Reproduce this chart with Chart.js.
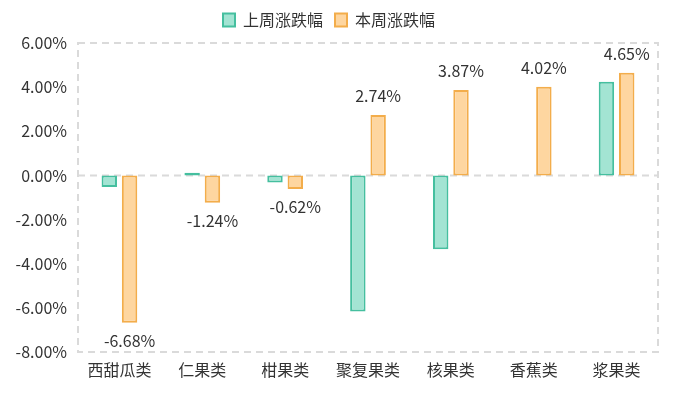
<!DOCTYPE html>
<html>
<head>
<meta charset="utf-8">
<script src="https://cdn.jsdelivr.net/npm/chart.js@4.4.1/dist/chart.umd.min.js"></script>
<style>
  html, body { margin: 0; padding: 0; background: #fff; }
  #wrap { width: 681px; height: 397px; position: relative; }
</style>
</head>
<body>
<div id="wrap"><canvas id="chart"></canvas></div>
<script>
// data (percent)
const categories = ['西甜瓜类', '仁果类', '柑果类', '聚复果类', '核果类', '香蕉类', '浆果类'];
const lastWeek = [-0.52, 0.12, -0.32, -6.16, -3.34, 0, 4.25];
const thisWeek = [-6.68, -1.24, -0.62, 2.74, 3.87, 4.02, 4.65];
const seriesNames = ['上周涨跌幅', '本周涨跌幅'];
const yTicks = [-8, -6, -4, -2, 0, 2, 4, 6];

const FONT = '"Noto Sans CJK SC", "Noto Sans", sans-serif';
const gridColor = '#dadada';

// dashed frame round the plot area + zero line
const framePlugin = {
    id: 'frame',
    beforeDatasetsDraw(chart) {
        const { ctx, chartArea: a, scales } = chart;
        ctx.save();
        ctx.strokeStyle = gridColor;
        ctx.lineWidth = 2;
        ctx.setLineDash([7, 5]);
        ctx.strokeRect(a.left, a.top, a.right - a.left, a.bottom - a.top);
        const y0 = scales.y.getPixelForValue(0);
        ctx.beginPath();
        ctx.moveTo(a.left, y0);
        ctx.lineTo(a.right, y0);
        ctx.stroke();
        ctx.restore();
    }
};

// value labels on this week's bars
const labelPlugin = {
    id: 'valueLabels',
    afterDatasetsDraw(chart) {
        const { ctx } = chart;
        const meta = chart.getDatasetMeta(1);
        ctx.save();
        ctx.font = '16px ' + FONT;
        ctx.fillStyle = '#333';
        ctx.textAlign = 'center';
        ctx.textBaseline = 'middle';
        meta.data.forEach((bar, i) => {
            const v = thisWeek[i];
            const y = v >= 0 ? bar.y - 19 : bar.y + 18;
            ctx.fillText(v.toFixed(2) + '%', bar.x, y);
        });
        ctx.restore();
    }
};

// fixed legend height
const legendHeight = {
    id: 'legendHeight',
    beforeInit(chart) {
        const orig = chart.legend.fit;
        chart.legend.fit = function () {
            orig.call(this);
            this.height = 43;
        };
    }
};

new Chart(document.getElementById('chart'), {
    type: 'bar',
    data: {
        labels: categories,
        datasets: [{
            label: seriesNames[0],
            data: lastWeek,
            backgroundColor: '#a3e4d3',
            borderColor: '#45bf9f',
            borderWidth: 2,
            borderSkipped: false,
            categoryPercentage: 0.49,
            barPercentage: 0.76
        }, {
            label: seriesNames[1],
            data: thisWeek,
            backgroundColor: '#fed6a0',
            borderColor: '#f3ad4b',
            borderWidth: 2,
            borderSkipped: false,
            categoryPercentage: 0.49,
            barPercentage: 0.76
        }]
    },
    options: {
        responsive: true,
        maintainAspectRatio: false,
        animation: false,
        layout: { padding: { left: 0, right: 23, top: 0, bottom: 0 } },
        plugins: {
            legend: {
                position: 'top',
                labels: {
                    font: { family: FONT, size: 16 },
                    color: '#333',
                    boxWidth: 12,
                    boxHeight: 13,
                    padding: 12
                }
            },
            tooltip: { enabled: false }
        },
        scales: {
            x: {
                grid: { display: false, drawTicks: false },
                border: { display: false },
                ticks: { font: { family: FONT, size: 16 }, color: '#333', padding: 8 },
                afterFit: (s) => { s.height = 45; }
            },
            y: {
                min: yTicks[0],
                max: yTicks[yTicks.length - 1],
                grid: { display: false, drawTicks: false },
                border: { display: false },
                afterBuildTicks: (s) => { s.ticks = yTicks.map(v => ({ value: v })); },
                ticks: {
                    font: { family: FONT, size: 16 },
                    color: '#333',
                    padding: 11,
                    callback: (v) => v.toFixed(2) + '%'
                },
                afterFit: (s) => { s.width = 78; }
            }
        }
    },
    plugins: [framePlugin, labelPlugin, legendHeight]
});
</script>
</body>
</html>
